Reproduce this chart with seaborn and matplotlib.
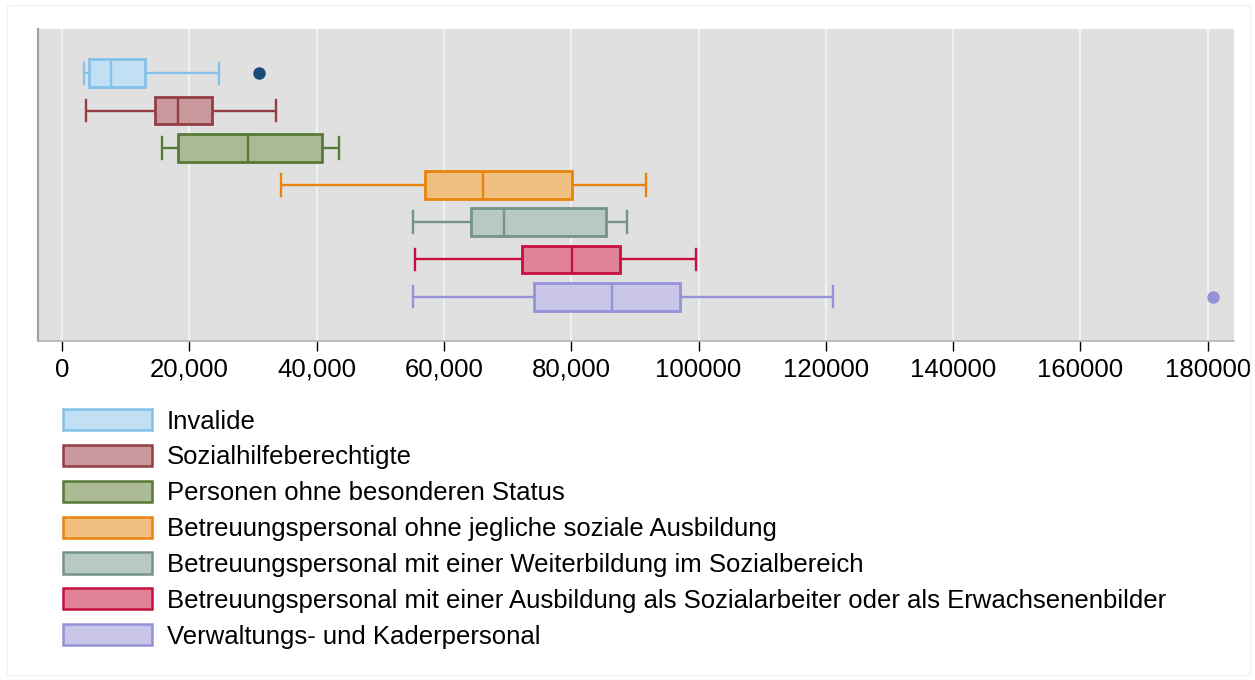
import numpy as np
import pandas as pd
import seaborn as sns
import matplotlib.pyplot as plt
from matplotlib.patches import Patch, Rectangle

groups = ["Invalide",
          "Sozialhilfeberechtigte",
          "Personen ohne besonderen Status",
          "Betreuungspersonal ohne jegliche soziale Ausbildung",
          "Betreuungspersonal mit einer Weiterbildung im Sozialbereich",
          "Betreuungspersonal mit einer Ausbildung als Sozialarbeiter oder als Erwachsenenbilder",
          "Verwaltungs- und Kaderpersonal"]

# five-number summaries
whisker_lo = [3500, 3700, 15700, 34400, 55200, 55500, 55200]
q1 = [4200, 14600, 18200, 57000, 64200, 72300, 74100]
median = [7700, 18300, 29300, 66200, 69400, 80100, 86400]
q3 = [13000, 23500, 40800, 80100, 85500, 87600, 97100]
whisker_hi = [24700, 33600, 43500, 91700, 88700, 99600, 121200]
outlier = [31000, None, None, None, None, None, 180800]

xticks = [0, 20000, 40000, 60000, 80000, 100000, 120000, 140000, 160000, 180000]
xticklabels = ["0", "20,000", "40,000", "60,000", "80,000",
               "100000", "120000", "140000", "160000", "180000"]

edges = ["#85c1e9", "#943d43", "#587a36", "#e8830c", "#76938a", "#c8103e", "#9692d8"]
fills = ["#c2e0f4", "#c9989c", "#abb995", "#f1bf80", "#b8c8c2", "#e08298", "#c9c6e9"]
flier_cols = ["#1a4a78", "#943d43", "#587a36", "#e8830c", "#76938a", "#c8103e", "#9692d8"]

# nine values per group so numpy's quartiles hit the summary exactly
rows = []
for i, g in enumerate(groups):
    last = outlier[i] if outlier[i] is not None else whisker_hi[i]
    pts = [whisker_lo[i], q1[i], q1[i], median[i], median[i], q3[i], q3[i], whisker_hi[i], last]
    rows += [(g, v) for v in pts]
df = pd.DataFrame(rows, columns=["Gruppe", "Lohn"])

plt.rcParams['font.family'] = ['Liberation Sans', 'DejaVu Sans']

fig = plt.figure(figsize=(12.55, 6.8), dpi=100)
ax = fig.add_axes([38/1255, 1-341/680, (1234-38)/1255, (341-29)/680])
ax.set_facecolor("#e0e0e0")

sns.boxplot(data=df, x="Lohn", y="Gruppe", hue="Gruppe", order=groups, hue_order=groups,
            palette=fills, saturation=1, width=0.75, linewidth=1.6, whis=1.5,
            legend=False, ax=ax,
            flierprops=dict(marker="o", markersize=9, markeredgewidth=0))

# recolour each box by its category position
for p in ax.patches:
    yc = p.get_path().vertices[:, 1].mean()
    idx = int(round(yc))
    p.set_facecolor(fills[idx])
    p.set_edgecolor(edges[idx])
    p.set_linewidth(2)
for ln in ax.lines:
    yd = np.asarray(ln.get_ydata(), dtype=float)
    if len(yd) == 0:
        continue
    idx = int(round(yd.mean()))
    ln.set_color(edges[idx])
    ln.set_linewidth(1.7)
    if ln.get_marker() == "o":
        ln.set_markerfacecolor(flier_cols[idx])
        ln.set_markeredgecolor(flier_cols[idx])
    elif len(yd) == 2 and abs(yd[1] - yd[0]) > 0.01 and abs(yd[1] - yd[0]) < 0.5:
        # caps
        c = yd.mean()
        ln.set_ydata([c - 0.29, c + 0.29])

ax.set_xlim(-3770, 184130)
ax.set_ylim(7.19, -1.19)
ax.set_xticks(xticks)
ax.set_xticklabels(xticklabels, fontsize=18.5)
ax.set_yticks([])
ax.set_xlabel("")
ax.set_ylabel("")
ax.grid(axis="x", color="#edf3f3", linewidth=1.5)
ax.set_axisbelow(True)
for s in ["top", "right"]:
    ax.spines[s].set_visible(False)
ax.spines["left"].set_color("#a0a0a0")
ax.spines["left"].set_linewidth(1.5)
ax.spines["bottom"].set_color("#b4b4b4")
ax.spines["bottom"].set_linewidth(1.2)
ax.tick_params(axis="x", length=7, width=1, color="black", pad=5)

handles = [Patch(facecolor=fills[i], edgecolor=edges[i], linewidth=1.8) for i in range(len(groups))]
ax.legend(handles=handles, labels=groups, loc="upper left",
          bbox_to_anchor=(63/1255, 1-409/680), bbox_transform=fig.transFigure,
          frameon=False, fontsize=18.5, handlelength=3.46, handleheight=0.9,
          handletextpad=0.58, labelspacing=0.44, borderpad=0, borderaxespad=0)

fig.patches.append(Rectangle((7/1255, 1-675/680), 1243/1255, 670/680, transform=fig.transFigure,
                             fill=False, edgecolor="#f2f2f2", linewidth=1))

fig.savefig("out.png", dpi=100)
